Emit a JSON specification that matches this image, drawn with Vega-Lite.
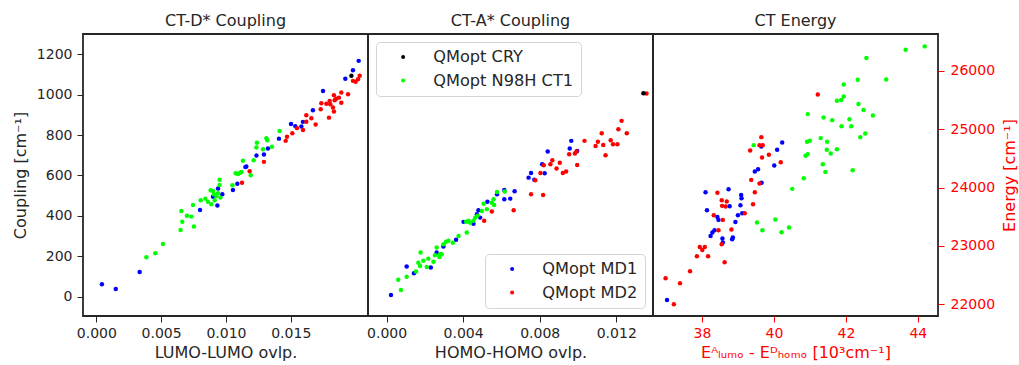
{
  "$schema": "https://vega.github.io/schema/vega-lite/v6.json",
  "padding": {"left": 11, "top": 12, "right": 5, "bottom": 5},
  "config": {
    "font": "DejaVu Sans",
    "view": {"stroke": "#262626", "strokeWidth": 1.8},
    "axis": {"domain": false, "grid": false, "tickColor": "#262626", "tickSize": 6, "tickWidth": 1, "labelFontSize": 14, "labelColor": "#262626", "labelPadding": 4, "titleFontSize": 16, "titleFontWeight": "normal", "titleColor": "#262626"},
    "title": {"fontSize": 16, "fontWeight": "normal", "color": "#262626", "offset": 5},
    "legend": {"title": null, "labelFontSize": 16.2, "labelColor": "#262626", "symbolType": "circle", "symbolSize": 16, "strokeColor": "#d4d4d4", "fillColor": "#ffffff", "cornerRadius": 4, "padding": 7, "rowPadding": 6.5, "symbolOffset": 12, "labelOffset": 22, "offset": 8}
  },
  "datasets": {
    "ctd": [
      {"s": "QMopt MD1", "x": 0.00043, "y": 61}, {"s": "QMopt MD1", "x": 0.0015, "y": 38}, {"s": "QMopt MD1", "x": 0.00334, "y": 122},
      {"s": "QMopt MD1", "x": 0.008, "y": 429}, {"s": "QMopt MD1", "x": 0.00934, "y": 451}, {"s": "QMopt MD1", "x": 0.009, "y": 494},
      {"s": "QMopt MD1", "x": 0.00972, "y": 507}, {"s": "QMopt MD1", "x": 0.00939, "y": 535}, {"s": "QMopt MD1", "x": 0.01054, "y": 528},
      {"s": "QMopt MD1", "x": 0.01088, "y": 559}, {"s": "QMopt MD1", "x": 0.01157, "y": 644}, {"s": "QMopt MD1", "x": 0.0115, "y": 641},
      {"s": "QMopt MD1", "x": 0.01235, "y": 698}, {"s": "QMopt MD1", "x": 0.01293, "y": 703}, {"s": "QMopt MD1", "x": 0.01324, "y": 733},
      {"s": "QMopt MD1", "x": 0.01409, "y": 782}, {"s": "QMopt MD1", "x": 0.01502, "y": 855}, {"s": "QMopt MD1", "x": 0.01535, "y": 844},
      {"s": "QMopt MD1", "x": 0.01582, "y": 842}, {"s": "QMopt MD1", "x": 0.01594, "y": 865}, {"s": "QMopt MD1", "x": 0.01671, "y": 923},
      {"s": "QMopt MD1", "x": 0.01749, "y": 1018}, {"s": "QMopt MD1", "x": 0.01921, "y": 1079}, {"s": "QMopt MD1", "x": 0.0198, "y": 1121},
      {"s": "QMopt MD1", "x": 0.02024, "y": 1167},
      {"s": "QMopt MD2", "x": 0.01124, "y": 564}, {"s": "QMopt MD2", "x": 0.01183, "y": 621}, {"s": "QMopt MD2", "x": 0.01293, "y": 667},
      {"s": "QMopt MD2", "x": 0.01461, "y": 771}, {"s": "QMopt MD2", "x": 0.01471, "y": 791}, {"s": "QMopt MD2", "x": 0.01512, "y": 809},
      {"s": "QMopt MD2", "x": 0.01548, "y": 834}, {"s": "QMopt MD2", "x": 0.01594, "y": 825}, {"s": "QMopt MD2", "x": 0.0162, "y": 866},
      {"s": "QMopt MD2", "x": 0.0162, "y": 898}, {"s": "QMopt MD2", "x": 0.01659, "y": 883}, {"s": "QMopt MD2", "x": 0.01692, "y": 852},
      {"s": "QMopt MD2", "x": 0.01731, "y": 928}, {"s": "QMopt MD2", "x": 0.01736, "y": 957}, {"s": "QMopt MD2", "x": 0.01795, "y": 886},
      {"s": "QMopt MD2", "x": 0.018, "y": 969}, {"s": "QMopt MD2", "x": 0.01805, "y": 952}, {"s": "QMopt MD2", "x": 0.01826, "y": 936},
      {"s": "QMopt MD2", "x": 0.01833, "y": 916}, {"s": "QMopt MD2", "x": 0.01833, "y": 997}, {"s": "QMopt MD2", "x": 0.01839, "y": 972},
      {"s": "QMopt MD2", "x": 0.01872, "y": 985}, {"s": "QMopt MD2", "x": 0.0189, "y": 1010}, {"s": "QMopt MD2", "x": 0.0189, "y": 960},
      {"s": "QMopt MD2", "x": 0.01942, "y": 1002}, {"s": "QMopt MD2", "x": 0.0198, "y": 1068}, {"s": "QMopt MD2", "x": 0.02001, "y": 1064},
      {"s": "QMopt MD2", "x": 0.02019, "y": 1076}, {"s": "QMopt MD2", "x": 0.02032, "y": 1093}, {"s": "QMopt MD2", "x": 0.01775, "y": 955},
      {"s": "QMopt MD2", "x": 0.0185, "y": 980},
      {"s": "QMopt CRY", "x": 0.01968, "y": 1093},
      {"s": "QMopt N98H CT1", "x": 0.00386, "y": 195}, {"s": "QMopt N98H CT1", "x": 0.00455, "y": 215}, {"s": "QMopt N98H CT1", "x": 0.00514, "y": 261},
      {"s": "QMopt N98H CT1", "x": 0.0065, "y": 330}, {"s": "QMopt N98H CT1", "x": 0.00656, "y": 424}, {"s": "QMopt N98H CT1", "x": 0.00663, "y": 371},
      {"s": "QMopt N98H CT1", "x": 0.00699, "y": 400}, {"s": "QMopt N98H CT1", "x": 0.00733, "y": 396}, {"s": "QMopt N98H CT1", "x": 0.00753, "y": 347},
      {"s": "QMopt N98H CT1", "x": 0.00746, "y": 454}, {"s": "QMopt N98H CT1", "x": 0.00805, "y": 477}, {"s": "QMopt N98H CT1", "x": 0.00841, "y": 485},
      {"s": "QMopt N98H CT1", "x": 0.00861, "y": 470}, {"s": "QMopt N98H CT1", "x": 0.00882, "y": 527}, {"s": "QMopt N98H CT1", "x": 0.00887, "y": 457},
      {"s": "QMopt N98H CT1", "x": 0.009, "y": 523}, {"s": "QMopt N98H CT1", "x": 0.00907, "y": 507}, {"s": "QMopt N98H CT1", "x": 0.00913, "y": 477},
      {"s": "QMopt N98H CT1", "x": 0.00926, "y": 498}, {"s": "QMopt N98H CT1", "x": 0.00939, "y": 512}, {"s": "QMopt N98H CT1", "x": 0.00951, "y": 578},
      {"s": "QMopt N98H CT1", "x": 0.00951, "y": 553}, {"s": "QMopt N98H CT1", "x": 0.00957, "y": 490}, {"s": "QMopt N98H CT1", "x": 0.0105, "y": 551},
      {"s": "QMopt N98H CT1", "x": 0.01075, "y": 611}, {"s": "QMopt N98H CT1", "x": 0.01093, "y": 607}, {"s": "QMopt N98H CT1", "x": 0.01106, "y": 612},
      {"s": "QMopt N98H CT1", "x": 0.01119, "y": 617}, {"s": "QMopt N98H CT1", "x": 0.01131, "y": 672}, {"s": "QMopt N98H CT1", "x": 0.01191, "y": 601},
      {"s": "QMopt N98H CT1", "x": 0.01214, "y": 675}, {"s": "QMopt N98H CT1", "x": 0.01235, "y": 738}, {"s": "QMopt N98H CT1", "x": 0.01239, "y": 762},
      {"s": "QMopt N98H CT1", "x": 0.01286, "y": 730}, {"s": "QMopt N98H CT1", "x": 0.01312, "y": 784}, {"s": "QMopt N98H CT1", "x": 0.01319, "y": 774},
      {"s": "QMopt N98H CT1", "x": 0.01355, "y": 742}, {"s": "QMopt N98H CT1", "x": 0.01414, "y": 820}
    ],
    "cta": [
      {"s": "QMopt MD1", "x": 0.00023, "y": 8}, {"s": "QMopt MD1", "x": 0.00105, "y": 149}, {"s": "QMopt MD1", "x": 0.00143, "y": 116},
      {"s": "QMopt MD1", "x": 0.00231, "y": 144}, {"s": "QMopt MD1", "x": 0.00262, "y": 218}, {"s": "QMopt MD1", "x": 0.00297, "y": 248},
      {"s": "QMopt MD1", "x": 0.00363, "y": 282}, {"s": "QMopt MD1", "x": 0.00402, "y": 370}, {"s": "QMopt MD1", "x": 0.00454, "y": 361},
      {"s": "QMopt MD1", "x": 0.00472, "y": 408}, {"s": "QMopt MD1", "x": 0.0048, "y": 428}, {"s": "QMopt MD1", "x": 0.00489, "y": 391},
      {"s": "QMopt MD1", "x": 0.00527, "y": 470}, {"s": "QMopt MD1", "x": 0.00577, "y": 507}, {"s": "QMopt MD1", "x": 0.00615, "y": 528},
      {"s": "QMopt MD1", "x": 0.00615, "y": 482}, {"s": "QMopt MD1", "x": 0.00646, "y": 485}, {"s": "QMopt MD1", "x": 0.00669, "y": 522},
      {"s": "QMopt MD1", "x": 0.00742, "y": 589}, {"s": "QMopt MD1", "x": 0.00755, "y": 612}, {"s": "QMopt MD1", "x": 0.00772, "y": 578},
      {"s": "QMopt MD1", "x": 0.00813, "y": 655}, {"s": "QMopt MD1", "x": 0.00826, "y": 611}, {"s": "QMopt MD1", "x": 0.00842, "y": 718},
      {"s": "QMopt MD1", "x": 0.00957, "y": 733}, {"s": "QMopt MD1", "x": 0.00965, "y": 771}, {"s": "QMopt MD1", "x": 0.00996, "y": 721},
      {"s": "QMopt MD2", "x": 0.0051, "y": 375}, {"s": "QMopt MD2", "x": 0.0055, "y": 421}, {"s": "QMopt MD2", "x": 0.00664, "y": 428},
      {"s": "QMopt MD2", "x": 0.00755, "y": 507}, {"s": "QMopt MD2", "x": 0.00777, "y": 576}, {"s": "QMopt MD2", "x": 0.00804, "y": 612},
      {"s": "QMopt MD2", "x": 0.00818, "y": 503}, {"s": "QMopt MD2", "x": 0.00821, "y": 650}, {"s": "QMopt MD2", "x": 0.00856, "y": 655},
      {"s": "QMopt MD2", "x": 0.00866, "y": 675}, {"s": "QMopt MD2", "x": 0.00888, "y": 634}, {"s": "QMopt MD2", "x": 0.00905, "y": 663},
      {"s": "QMopt MD2", "x": 0.00921, "y": 612}, {"s": "QMopt MD2", "x": 0.00938, "y": 619}, {"s": "QMopt MD2", "x": 0.00954, "y": 705},
      {"s": "QMopt MD2", "x": 0.00984, "y": 708}, {"s": "QMopt MD2", "x": 0.00992, "y": 718}, {"s": "QMopt MD2", "x": 0.00996, "y": 652},
      {"s": "QMopt MD2", "x": 0.01034, "y": 771}, {"s": "QMopt MD2", "x": 0.01092, "y": 746}, {"s": "QMopt MD2", "x": 0.01104, "y": 767},
      {"s": "QMopt MD2", "x": 0.01124, "y": 809}, {"s": "QMopt MD2", "x": 0.01132, "y": 751}, {"s": "QMopt MD2", "x": 0.01144, "y": 700},
      {"s": "QMopt MD2", "x": 0.01171, "y": 774}, {"s": "QMopt MD2", "x": 0.01183, "y": 754}, {"s": "QMopt MD2", "x": 0.01206, "y": 754},
      {"s": "QMopt MD2", "x": 0.01211, "y": 829}, {"s": "QMopt MD2", "x": 0.01228, "y": 870}, {"s": "QMopt MD2", "x": 0.01255, "y": 809},
      {"s": "QMopt MD2", "x": 0.01358, "y": 1005},
      {"s": "QMopt CRY", "x": 0.01342, "y": 1007},
      {"s": "QMopt N98H CT1", "x": 0.00061, "y": 83}, {"s": "QMopt N98H CT1", "x": 0.00075, "y": 33}, {"s": "QMopt N98H CT1", "x": 0.00105, "y": 98},
      {"s": "QMopt N98H CT1", "x": 0.00154, "y": 124}, {"s": "QMopt N98H CT1", "x": 0.00166, "y": 168}, {"s": "QMopt N98H CT1", "x": 0.00178, "y": 218},
      {"s": "QMopt N98H CT1", "x": 0.00175, "y": 152}, {"s": "QMopt N98H CT1", "x": 0.00192, "y": 177}, {"s": "QMopt N98H CT1", "x": 0.0021, "y": 147},
      {"s": "QMopt N98H CT1", "x": 0.00218, "y": 188}, {"s": "QMopt N98H CT1", "x": 0.00245, "y": 173}, {"s": "QMopt N98H CT1", "x": 0.00253, "y": 205},
      {"s": "QMopt N98H CT1", "x": 0.00262, "y": 243}, {"s": "QMopt N98H CT1", "x": 0.00276, "y": 196}, {"s": "QMopt N98H CT1", "x": 0.00279, "y": 210},
      {"s": "QMopt N98H CT1", "x": 0.00288, "y": 210}, {"s": "QMopt N98H CT1", "x": 0.00297, "y": 259}, {"s": "QMopt N98H CT1", "x": 0.00311, "y": 272},
      {"s": "QMopt N98H CT1", "x": 0.00323, "y": 276}, {"s": "QMopt N98H CT1", "x": 0.00346, "y": 267}, {"s": "QMopt N98H CT1", "x": 0.00376, "y": 300},
      {"s": "QMopt N98H CT1", "x": 0.00419, "y": 317}, {"s": "QMopt N98H CT1", "x": 0.00416, "y": 371}, {"s": "QMopt N98H CT1", "x": 0.00428, "y": 375},
      {"s": "QMopt N98H CT1", "x": 0.00437, "y": 366}, {"s": "QMopt N98H CT1", "x": 0.00454, "y": 375}, {"s": "QMopt N98H CT1", "x": 0.00463, "y": 391},
      {"s": "QMopt N98H CT1", "x": 0.00475, "y": 400}, {"s": "QMopt N98H CT1", "x": 0.00498, "y": 424}, {"s": "QMopt N98H CT1", "x": 0.00507, "y": 460},
      {"s": "QMopt N98H CT1", "x": 0.00524, "y": 433}, {"s": "QMopt N98H CT1", "x": 0.0055, "y": 465}, {"s": "QMopt N98H CT1", "x": 0.00559, "y": 482},
      {"s": "QMopt N98H CT1", "x": 0.00562, "y": 454}, {"s": "QMopt N98H CT1", "x": 0.00577, "y": 518}, {"s": "QMopt N98H CT1", "x": 0.00617, "y": 520}
    ],
    "cte": [
      {"s": "QMopt MD1", "x": 37.03, "y": 22074}, {"s": "QMopt MD1", "x": 38.1, "y": 23920}, {"s": "QMopt MD1", "x": 38.14, "y": 23612},
      {"s": "QMopt MD1", "x": 38.74, "y": 23972}, {"s": "QMopt MD1", "x": 38.77, "y": 23680}, {"s": "QMopt MD1", "x": 38.24, "y": 23171},
      {"s": "QMopt MD1", "x": 38.29, "y": 23229}, {"s": "QMopt MD1", "x": 38.35, "y": 23269}, {"s": "QMopt MD1", "x": 38.43, "y": 23497},
      {"s": "QMopt MD1", "x": 38.46, "y": 23446}, {"s": "QMopt MD1", "x": 38.57, "y": 23126}, {"s": "QMopt MD1", "x": 38.58, "y": 23057},
      {"s": "QMopt MD1", "x": 38.84, "y": 23114}, {"s": "QMopt MD1", "x": 38.86, "y": 23143}, {"s": "QMopt MD1", "x": 38.93, "y": 23411},
      {"s": "QMopt MD1", "x": 39.0, "y": 23526}, {"s": "QMopt MD1", "x": 39.07, "y": 23697}, {"s": "QMopt MD1", "x": 39.09, "y": 23874},
      {"s": "QMopt MD1", "x": 39.1, "y": 23817}, {"s": "QMopt MD1", "x": 39.12, "y": 23560}, {"s": "QMopt MD1", "x": 39.47, "y": 24274},
      {"s": "QMopt MD1", "x": 39.56, "y": 24314}, {"s": "QMopt MD1", "x": 39.66, "y": 24080}, {"s": "QMopt MD1", "x": 39.65, "y": 24702},
      {"s": "QMopt MD1", "x": 40.01, "y": 24377}, {"s": "QMopt MD1", "x": 40.09, "y": 24646}, {"s": "QMopt MD1", "x": 40.23, "y": 24771},
      {"s": "QMopt MD2", "x": 36.99, "y": 22446}, {"s": "QMopt MD2", "x": 37.22, "y": 22000}, {"s": "QMopt MD2", "x": 37.39, "y": 22360},
      {"s": "QMopt MD2", "x": 37.67, "y": 22566}, {"s": "QMopt MD2", "x": 37.86, "y": 22823}, {"s": "QMopt MD2", "x": 37.94, "y": 22983},
      {"s": "QMopt MD2", "x": 38.01, "y": 22931}, {"s": "QMopt MD2", "x": 38.08, "y": 22983}, {"s": "QMopt MD2", "x": 38.17, "y": 22823},
      {"s": "QMopt MD2", "x": 38.33, "y": 23526}, {"s": "QMopt MD2", "x": 38.43, "y": 23909}, {"s": "QMopt MD2", "x": 38.46, "y": 23269},
      {"s": "QMopt MD2", "x": 38.55, "y": 23783}, {"s": "QMopt MD2", "x": 38.56, "y": 23686}, {"s": "QMopt MD2", "x": 38.58, "y": 23446},
      {"s": "QMopt MD2", "x": 38.55, "y": 23029}, {"s": "QMopt MD2", "x": 38.63, "y": 22720}, {"s": "QMopt MD2", "x": 38.66, "y": 23674},
      {"s": "QMopt MD2", "x": 38.69, "y": 23760}, {"s": "QMopt MD2", "x": 38.82, "y": 23280}, {"s": "QMopt MD2", "x": 39.19, "y": 23560},
      {"s": "QMopt MD2", "x": 39.34, "y": 24634}, {"s": "QMopt MD2", "x": 39.37, "y": 24131}, {"s": "QMopt MD2", "x": 39.42, "y": 23714},
      {"s": "QMopt MD2", "x": 39.47, "y": 23920}, {"s": "QMopt MD2", "x": 39.6, "y": 24068}, {"s": "QMopt MD2", "x": 39.6, "y": 24726},
      {"s": "QMopt MD2", "x": 39.65, "y": 24863}, {"s": "QMopt MD2", "x": 39.69, "y": 24726}, {"s": "QMopt MD2", "x": 39.67, "y": 24514},
      {"s": "QMopt MD2", "x": 39.86, "y": 24560}, {"s": "QMopt MD2", "x": 40.19, "y": 24434}, {"s": "QMopt MD2", "x": 41.22, "y": 25594},
      {"s": "QMopt N98H CT1", "x": 44.19, "y": 26417}, {"s": "QMopt N98H CT1", "x": 43.66, "y": 26360}, {"s": "QMopt N98H CT1", "x": 42.57, "y": 26218},
      {"s": "QMopt N98H CT1", "x": 41.94, "y": 25766}, {"s": "QMopt N98H CT1", "x": 42.33, "y": 25846}, {"s": "QMopt N98H CT1", "x": 43.12, "y": 25851},
      {"s": "QMopt N98H CT1", "x": 41.94, "y": 25560}, {"s": "QMopt N98H CT1", "x": 41.87, "y": 25497}, {"s": "QMopt N98H CT1", "x": 41.75, "y": 25486},
      {"s": "QMopt N98H CT1", "x": 42.35, "y": 25429}, {"s": "QMopt N98H CT1", "x": 42.49, "y": 25326}, {"s": "QMopt N98H CT1", "x": 42.75, "y": 25234},
      {"s": "QMopt N98H CT1", "x": 40.94, "y": 25257}, {"s": "QMopt N98H CT1", "x": 41.38, "y": 25200}, {"s": "QMopt N98H CT1", "x": 41.62, "y": 25154},
      {"s": "QMopt N98H CT1", "x": 42.1, "y": 25171}, {"s": "QMopt N98H CT1", "x": 41.88, "y": 25051}, {"s": "QMopt N98H CT1", "x": 42.15, "y": 25051},
      {"s": "QMopt N98H CT1", "x": 42.4, "y": 24863}, {"s": "QMopt N98H CT1", "x": 42.54, "y": 24926}, {"s": "QMopt N98H CT1", "x": 41.3, "y": 24846},
      {"s": "QMopt N98H CT1", "x": 41.48, "y": 24783}, {"s": "QMopt N98H CT1", "x": 40.92, "y": 24783}, {"s": "QMopt N98H CT1", "x": 41.0, "y": 24800},
      {"s": "QMopt N98H CT1", "x": 40.88, "y": 24543}, {"s": "QMopt N98H CT1", "x": 40.94, "y": 24572}, {"s": "QMopt N98H CT1", "x": 41.47, "y": 24646},
      {"s": "QMopt N98H CT1", "x": 41.58, "y": 24583}, {"s": "QMopt N98H CT1", "x": 41.75, "y": 24657}, {"s": "QMopt N98H CT1", "x": 41.36, "y": 24400},
      {"s": "QMopt N98H CT1", "x": 41.43, "y": 24268}, {"s": "QMopt N98H CT1", "x": 42.19, "y": 24297}, {"s": "QMopt N98H CT1", "x": 40.83, "y": 24160},
      {"s": "QMopt N98H CT1", "x": 40.51, "y": 23977}, {"s": "QMopt N98H CT1", "x": 39.44, "y": 24726}, {"s": "QMopt N98H CT1", "x": 39.53, "y": 23400},
      {"s": "QMopt N98H CT1", "x": 39.68, "y": 23269}, {"s": "QMopt N98H CT1", "x": 40.04, "y": 23451}, {"s": "QMopt N98H CT1", "x": 40.21, "y": 23234},
      {"s": "QMopt N98H CT1", "x": 40.42, "y": 23314}
    ]
  },
  "spacing": 0,
  "bounds": "flush",
  "resolve": {
    "scale": {"color": "independent", "fill": "independent"},
    "legend": {"color": "independent", "fill": "independent"}
  },
  "hconcat": [
    {
      "width": 285,
      "height": 282,
      "title": "CT-D* Coupling",
      "data": {"name": "ctd"},
      "mark": {"type": "point", "filled": true, "size": 20, "opacity": 1},
      "encoding": {
        "x": {"field": "x", "type": "quantitative", "scale": {"domain": [-0.00103, 0.02096], "nice": false, "zero": false},
              "axis": {"values": [0, 0.005, 0.01, 0.015], "format": ".3f", "title": "LUMO-LUMO ovlp.", "titlePadding": 4}},
        "y": {"field": "y", "type": "quantitative", "scale": {"domain": [-96, 1300], "nice": false, "zero": false},
              "axis": {"values": [0, 200, 400, 600, 800, 1000, 1200], "format": "d", "labelPadding": 5, "title": "Coupling [cm⁻¹]", "titlePadding": 8}},
        "color": {"field": "s", "type": "nominal",
                  "scale": {"domain": ["QMopt MD1", "QMopt MD2", "QMopt CRY", "QMopt N98H CT1"], "range": ["#0000ff", "#ff0000", "#000000", "#00ff00"]},
                  "legend": null}
      }
    },
    {
      "width": 285,
      "height": 282,
      "title": "CT-A* Coupling",
      "data": {"name": "cta"},
      "encoding": {
        "x": {"field": "x", "type": "quantitative", "scale": {"domain": [-0.00097, 0.01392], "nice": false, "zero": false},
              "axis": {"values": [0, 0.004, 0.008, 0.012], "format": ".3f", "title": "HOMO-HOMO ovlp.", "titlePadding": 4}},
        "y": {"field": "y", "type": "quantitative", "scale": {"domain": [-96, 1300], "nice": false, "zero": false}, "axis": null}
      },
      "layer": [
        {
          "transform": [{"filter": {"field": "s", "oneOf": ["QMopt MD1", "QMopt MD2"]}}],
          "mark": {"type": "point", "filled": true, "size": 20, "opacity": 1},
          "encoding": {
            "fill": {"field": "s", "type": "nominal",
                     "scale": {"domain": ["QMopt MD1", "QMopt MD2"], "range": ["#0000ff", "#ff0000"]},
                     "legend": {"orient": "bottom-right"}}
          }
        },
        {
          "transform": [{"filter": {"field": "s", "oneOf": ["QMopt CRY", "QMopt N98H CT1"]}}],
          "mark": {"type": "point", "filled": true, "size": 20, "opacity": 1},
          "encoding": {
            "color": {"field": "s", "type": "nominal",
                      "scale": {"domain": ["QMopt CRY", "QMopt N98H CT1"], "range": ["#000000", "#00ff00"]},
                      "legend": {"orient": "top-left"}}
          }
        }
      ]
    },
    {
      "width": 285,
      "height": 282,
      "title": "CT Energy",
      "data": {"name": "cte"},
      "mark": {"type": "point", "filled": true, "size": 20, "opacity": 1},
      "encoding": {
        "x": {"field": "x", "type": "quantitative", "scale": {"domain": [36.64, 44.56], "nice": false, "zero": false},
              "axis": {"values": [38, 40, 42, 44], "format": "d", "title": "Eᴬₗᵤₘₒ - Eᴰₕₒₘₒ [10³cm⁻¹]", "titlePadding": 4,
                       "labelColor": "#ff0000", "tickColor": "#ff0000", "titleColor": "#ff0000"}},
        "y": {"field": "y", "type": "quantitative", "scale": {"domain": [21800, 26629], "nice": false, "zero": false},
              "axis": {"orient": "right", "values": [22000, 23000, 24000, 25000, 26000], "format": "d", "labelPadding": 6, "title": "Energy [cm⁻¹]",
                       "titleAngle": 270, "titleBaseline": "top", "titlePadding": 7, "labelColor": "#ff0000", "tickColor": "#ff0000", "titleColor": "#ff0000"}},
        "color": {"field": "s", "type": "nominal",
                  "scale": {"domain": ["QMopt MD1", "QMopt MD2", "QMopt CRY", "QMopt N98H CT1"], "range": ["#0000ff", "#ff0000", "#000000", "#00ff00"]},
                  "legend": null}
      }
    }
  ]
}
